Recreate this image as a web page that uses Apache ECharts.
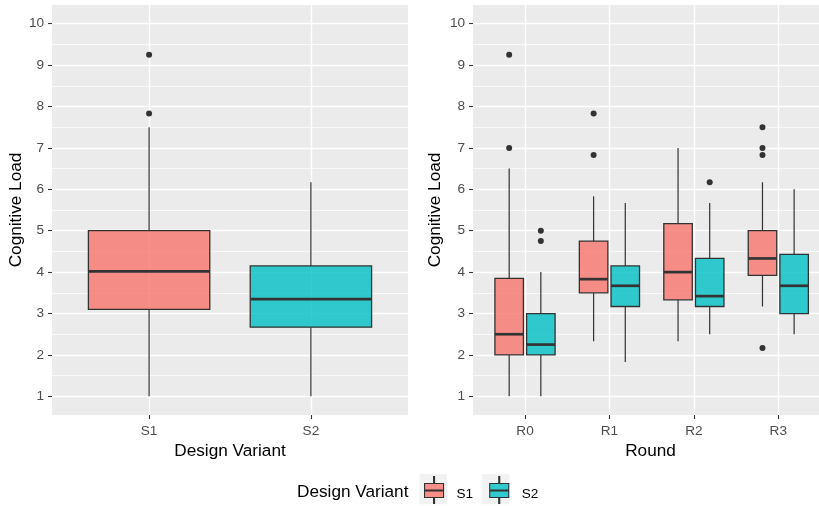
<!DOCTYPE html>
<html>
<head>
<meta charset="utf-8">
<script src="https://cdn.jsdelivr.net/npm/echarts@6/dist/echarts.min.js"></script>
<style>
html,body{margin:0;padding:0;background:#fff;}
#chart{width:819px;height:506px;}
</style>
</head>
<body>
<div id="chart"></div>
<script>
// ---- Data ----
const variants = ['S1', 'S2'];
const rounds = ['R0', 'R1', 'R2', 'R3'];
const yTicks = [1, 2, 3, 4, 5, 6, 7, 8, 9, 10];
const yMinorTicks = [1.5, 2.5, 3.5, 4.5, 5.5, 6.5, 7.5, 8.5, 9.5];

// [lowerWhisker, Q1, median, Q3, upperWhisker]
const overallS1 = [1.0, 3.1, 4.02, 5.0, 7.5];
const overallS2 = [1.0, 2.67, 3.35, 4.15, 6.17];
const overallOutS1 = [9.25, 7.83];
const overallOutS2 = [];

const roundS1 = [
  [1.0, 2.0, 2.5, 3.85, 6.5],
  [2.33, 3.5, 3.83, 4.75, 5.83],
  [2.33, 3.33, 4.0, 5.17, 7.0],
  [3.17, 3.92, 4.33, 5.0, 6.17]
];
const roundS2 = [
  [1.0, 2.0, 2.25, 3.0, 4.0],
  [1.83, 3.17, 3.67, 4.15, 5.67],
  [2.5, 3.17, 3.42, 4.33, 5.67],
  [2.5, 3.0, 3.67, 4.43, 6.0]
];
const roundOutS1 = [[9.25, 7.0], [7.83, 6.83], [], [7.5, 7.0, 6.83, 2.17]];
const roundOutS2 = [[5.0, 4.75], [], [6.17], []];

// ---- Style ----
const FONT = 'Liberation Sans, Arial, sans-serif';
const fillS1 = 'rgba(248,118,109,0.8)';
const fillS2 = 'rgba(0,191,196,0.8)';
const lineCol = '#333333';
const LABEL_SIZE = 13.6;
const TITLE_SIZE = 17.2;

function boxRenderer(boxWidth, offset, outliers) {
  return function (params, api) {
    const x = api.value(0) + offset;
    const pLo = api.coord([x, api.value(1)]);
    const pQ1 = api.coord([x, api.value(2)]);
    const pMed = api.coord([x, api.value(3)]);
    const pQ3 = api.coord([x, api.value(4)]);
    const pHi = api.coord([x, api.value(5)]);
    const half = api.size([boxWidth, 0])[0] / 2;
    const cx = pMed[0];
    const children = [
      {type: 'line', shape: {x1: cx, y1: pHi[1], x2: cx, y2: pQ3[1]}, style: {stroke: lineCol, lineWidth: 1.2}},
      {type: 'line', shape: {x1: cx, y1: pQ1[1], x2: cx, y2: pLo[1]}, style: {stroke: lineCol, lineWidth: 1.2}},
      {type: 'rect', shape: {x: cx - half, y: pQ3[1], width: half * 2, height: pQ1[1] - pQ3[1]},
        style: {fill: api.visual('color'), stroke: lineCol, lineWidth: 1.3}},
      {type: 'line', shape: {x1: cx - half, y1: pMed[1], x2: cx + half, y2: pMed[1]}, style: {stroke: lineCol, lineWidth: 2.7}}
    ];
    const outs = outliers[params.dataIndex] || [];
    outs.forEach(function (v) {
      const p = api.coord([x, v]);
      children.push({type: 'circle', shape: {cx: p[0], cy: p[1], r: 3}, style: {fill: lineCol}});
    });
    return {type: 'group', children: children};
  };
}

function rows(stats) {
  return stats.map(function (s, i) { return [i + 1].concat(s); });
}

function yAxisMajor(grid, gap) {
  return {
    type: 'value', gridIndex: grid, min: 0.55, max: 10.45,
    name: 'Cognitive Load', nameLocation: 'middle', nameGap: gap,
    nameTextStyle: {fontFamily: FONT, fontSize: TITLE_SIZE, color: '#000'},
    axisLine: {show: false},
    axisTick: {show: true, length: 4, lineStyle: {color: lineCol, width: 1.1}, customValues: yTicks},
    axisLabel: {color: '#4D4D4D', fontFamily: FONT, fontSize: LABEL_SIZE, margin: 8, customValues: yTicks},
    splitLine: {show: true, lineStyle: {color: '#FFFFFF', width: 1.4}}
  };
}
function yAxisMinor(grid) {
  return {
    type: 'value', gridIndex: grid, min: 0.55, max: 10.45, position: 'left',
    axisLine: {show: false},
    axisTick: {show: false, customValues: yMinorTicks},
    axisLabel: {show: false, customValues: yMinorTicks},
    splitLine: {show: true, lineStyle: {color: '#FFFFFF', width: 0.7}}
  };
}
function xAxisCat(grid, cats, title, min, max, titlePad) {
  const vals = cats.map(function (c, i) { return i + 1; });
  return {
    type: 'value', gridIndex: grid, min: min, max: max,
    name: title, nameLocation: 'middle', nameGap: 28,
    nameTextStyle: {fontFamily: FONT, fontSize: TITLE_SIZE, color: '#000', padding: [0, 0, 0, titlePad]},
    axisLine: {show: false},
    axisTick: {show: true, length: 4, lineStyle: {color: lineCol, width: 1.1}, customValues: vals},
    axisLabel: {color: '#4D4D4D', fontFamily: FONT, fontSize: LABEL_SIZE, margin: 9, customValues: vals,
      formatter: function (v) { return cats[Math.round(v) - 1]; }},
    splitLine: {show: true, lineStyle: {color: '#FFFFFF', width: 1.4}}
  };
}

const legendIcon = 'path://M0,7 L19,7 L19,21 L0,21 Z M9,0 L10,0 L10,7 L9,7 Z M9,21 L10,21 L10,27 L9,27 Z M0,13.5 L19,13.5 L19,14.5 L0,14.5 Z';

const option = {
  animation: false,
  backgroundColor: '#FFFFFF',
  textStyle: {fontFamily: FONT},
  grid: [
    {left: 52, top: 5, width: 356, height: 410, show: true, backgroundColor: '#EBEBEB', borderWidth: 0},
    {left: 473, top: 5, width: 346, height: 410, show: true, backgroundColor: '#EBEBEB', borderWidth: 0}
  ],
  xAxis: [
    xAxisCat(0, variants, 'Design Variant', 0.4, 2.6, 0),
    // right panel continues past the picture edge, as in the reference
    xAxisCat(1, rounds, 'Round', 0.384, 4.482, 9)
  ],
  yAxis: [yAxisMajor(0, 27.5), yAxisMajor(1, 29), yAxisMinor(0), yAxisMinor(1)],
  legend: {
    data: ['S1', 'S2'],
    left: 424, top: 476, padding: 0,
    itemWidth: 19, itemHeight: 27, itemGap: 16,
    icon: legendIcon,
    itemStyle: {borderColor: lineCol, borderWidth: 1.1},
    formatter: '{t|{name}}',
    textStyle: {fontFamily: FONT, fontSize: LABEL_SIZE, color: '#000',
      rich: {t: {fontFamily: FONT, fontSize: LABEL_SIZE, color: '#000', padding: [9, 0, 0, 8]}}},
    selectedMode: false
  },
  graphic: [
    {type: 'rect', shape: {x: 419.5, y: 474, width: 27.5, height: 30.5}, style: {fill: '#F2F2F2'}, z: -1},
    {type: 'rect', shape: {x: 482, y: 474, width: 27.5, height: 30.5}, style: {fill: '#F2F2F2'}, z: -1},
    {type: 'text', left: 297, top: 484, style: {text: 'Design Variant', font: TITLE_SIZE + 'px ' + FONT, fill: '#000'}}
  ],
  series: [
    {type: 'custom', name: 'S1', xAxisIndex: 0, yAxisIndex: 0, itemStyle: {color: fillS1},
      renderItem: boxRenderer(0.75, 0, [overallOutS1]), data: [[1].concat(overallS1)], encode: {x: 0, y: [1, 2, 3, 4, 5]}},
    {type: 'custom', name: 'S2', xAxisIndex: 0, yAxisIndex: 0, itemStyle: {color: fillS2},
      renderItem: boxRenderer(0.75, 0, [overallOutS2]), data: [[2].concat(overallS2)], encode: {x: 0, y: [1, 2, 3, 4, 5]}},
    {type: 'custom', name: 'S1', xAxisIndex: 1, yAxisIndex: 1, itemStyle: {color: fillS1},
      renderItem: boxRenderer(0.3375, -0.1875, roundOutS1), data: rows(roundS1), encode: {x: 0, y: [1, 2, 3, 4, 5]}},
    {type: 'custom', name: 'S2', xAxisIndex: 1, yAxisIndex: 1, itemStyle: {color: fillS2},
      renderItem: boxRenderer(0.3375, 0.1875, roundOutS2), data: rows(roundS2), encode: {x: 0, y: [1, 2, 3, 4, 5]}}
  ]
};

const chart = echarts.init(document.getElementById('chart'), null, {renderer: 'canvas'});
chart.setOption(option);
</script>
</body>
</html>
